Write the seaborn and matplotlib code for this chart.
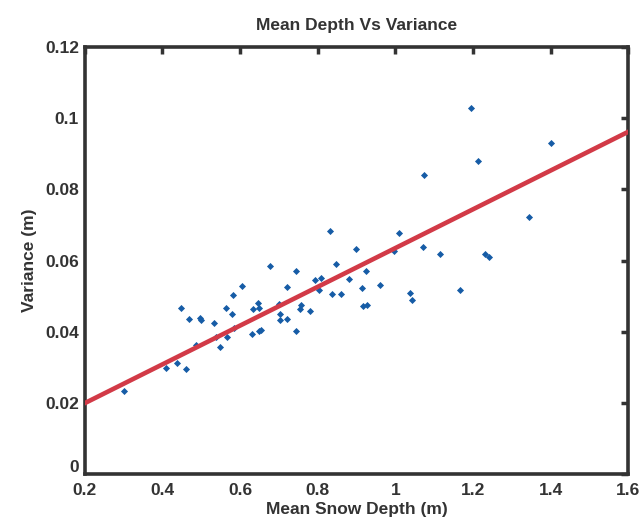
import numpy as np
import pandas as pd
import matplotlib
matplotlib.use('Agg')
import matplotlib.pyplot as plt
import matplotlib.transforms as mtransforms
import seaborn as sns

sns.set_style('white')
plt.rcParams['font.family'] = ['Liberation Sans', 'DejaVu Sans']
plt.rcParams['font.weight'] = 'bold'

# Mean snow depth (m) and variance (m)
depth = [0.302, 0.410, 0.439, 0.462, 0.488, 0.538, 0.549, 0.566, 0.584, 0.449,
         0.468, 0.497, 0.499, 0.533, 0.563, 0.579, 0.582, 0.605, 0.630, 0.648,
         0.654, 0.634, 0.647, 0.648, 0.677, 0.701, 0.704, 0.702, 0.721, 0.721,
         0.744, 0.744, 0.754, 0.758, 0.780, 0.794, 0.809, 0.803, 0.838, 0.860,
         0.848, 0.832, 0.880, 0.899, 0.915, 0.960, 0.925, 0.917, 0.926, 1.038,
         1.044, 1.167, 1.009, 0.997, 1.070, 1.115, 1.231, 1.240, 1.196, 1.401,
         1.212, 1.073, 1.344]
variance = [0.0235, 0.0298, 0.0312, 0.0296, 0.0362, 0.0387, 0.0359, 0.0387, 0.0412, 0.0467,
            0.0436, 0.0440, 0.0434, 0.0426, 0.0467, 0.0450, 0.0504, 0.0528, 0.0394, 0.0402,
            0.0405, 0.0465, 0.0482, 0.0467, 0.0585, 0.0479, 0.0450, 0.0434, 0.0525, 0.0436,
            0.0570, 0.0402, 0.0464, 0.0477, 0.0458, 0.0545, 0.0552, 0.0518, 0.0507, 0.0507,
            0.0592, 0.0683, 0.0549, 0.0633, 0.0523, 0.0532, 0.0570, 0.0472, 0.0475, 0.0508,
            0.0489, 0.0518, 0.0679, 0.0628, 0.0638, 0.0620, 0.0619, 0.0611, 0.1029, 0.0930,
            0.0881, 0.0841, 0.0722]

# fitted trend line end points
fit_depth = [0.2, 1.6]
fit_variance = [0.0200, 0.0962]

x_ticks = [0.2, 0.4, 0.6, 0.8, 1.0, 1.2, 1.4, 1.6]
x_tick_labels = ['0.2', '0.4', '0.6', '0.8', '1', '1.2', '1.4', '1.6']
y_ticks = [0, 0.02, 0.04, 0.06, 0.08, 0.1, 0.12]
y_tick_labels = ['0', '0.02', '0.04', '0.06', '0.08', '0.1', '0.12']

df = pd.DataFrame({'depth': depth, 'variance': variance})
fit = pd.DataFrame({'depth': fit_depth, 'variance': fit_variance})

fig = plt.figure(figsize=(6.44, 5.25), dpi=100)
ax = fig.add_axes([0.1314, 0.0962, 0.8444, 0.8145])

sns.scatterplot(data=df, x='depth', y='variance', marker='D', s=13,
                color='#165ca6', linewidth=0, ax=ax, zorder=2)
sns.lineplot(data=fit, x='depth', y='variance', color='#d23a47',
             linewidth=3.3, ax=ax, zorder=3)

ax.set_xlim(0.2, 1.6)
ax.set_ylim(0, 0.12)
ax.set_xticks(x_ticks)
ax.set_xticklabels(x_tick_labels)
ax.set_yticks(y_ticks)
ax.set_yticklabels(y_tick_labels)
ax.tick_params(direction='in', length=5, width=2.5, color='#333333',
               top=True, right=True, labelsize=12.5, labelcolor='#333333')
ax.tick_params(axis='x', pad=6)
ax.tick_params(axis='y', pad=4)
for lab in ax.get_xticklabels() + ax.get_yticklabels():
    lab.set_fontweight('bold')

# the "0" on the y axis sits a little above the "0.2" as in the original
zero_lab = ax.get_yticklabels()[0]
zero_lab.set_transform(zero_lab.get_transform() +
                       mtransforms.ScaledTranslation(0, 6 / 72, fig.dpi_scale_trans))

for side in ['left', 'right', 'top', 'bottom']:
    ax.spines[side].set_visible(True)
    ax.spines[side].set_linewidth(2.6)
    ax.spines[side].set_color('#333333')

ax.set_title('Mean Depth Vs Variance', fontsize=12.5, fontweight='bold',
             color='#333333', pad=12)
ax.set_xlabel('Mean Snow Depth (m)', fontsize=12.5, fontweight='bold',
              color='#333333', labelpad=3)
ax.set_ylabel('Variance (m)', fontsize=12.5, fontweight='bold',
              color='#333333', labelpad=6)

plt.savefig('out.png', dpi=100)
